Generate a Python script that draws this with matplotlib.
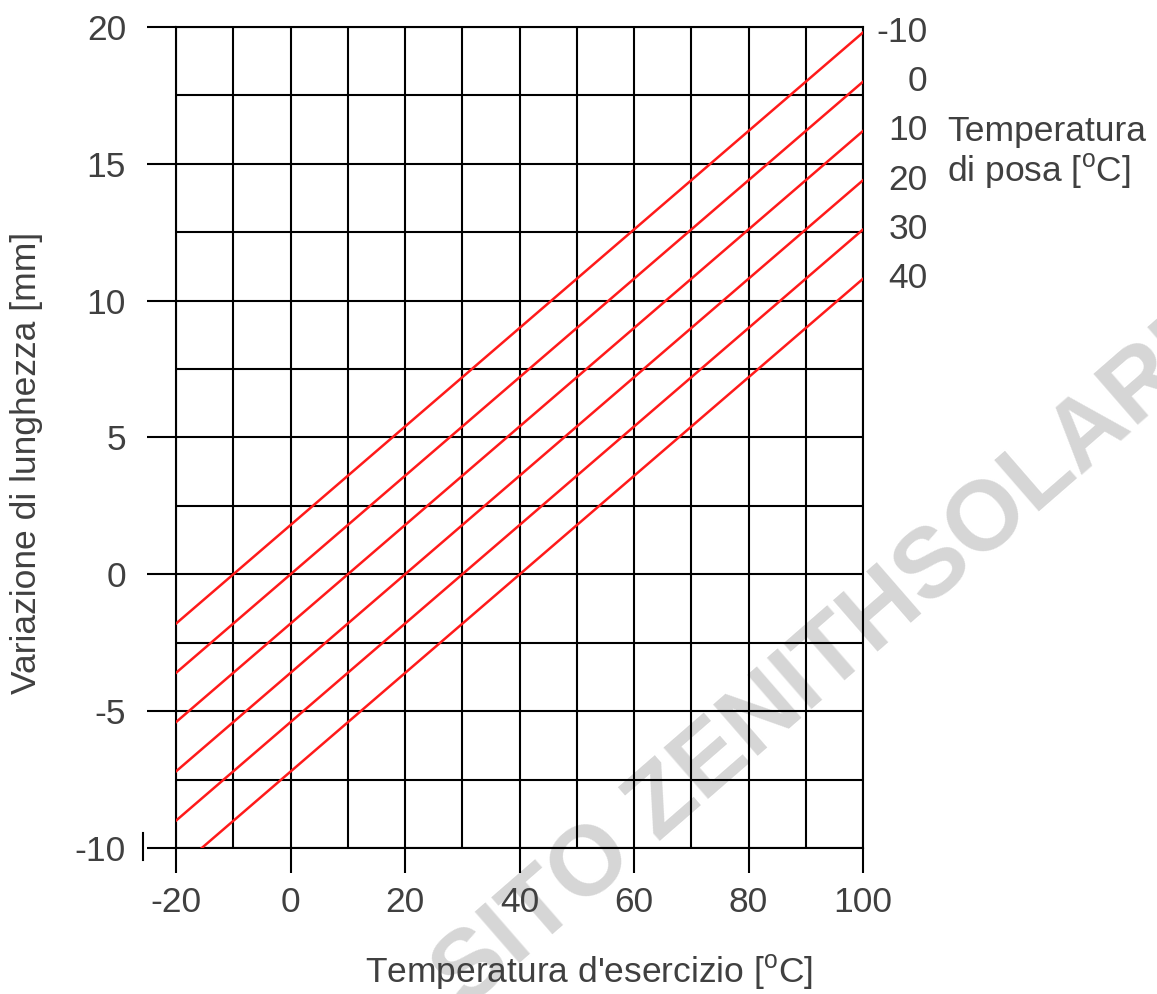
import matplotlib
matplotlib.use("Agg")
import matplotlib.pyplot as plt

plt.rcParams['font.family'] = ['Liberation Sans', 'DejaVu Sans']
plt.rcParams['axes.unicode_minus'] = False
plt.rcParams['mathtext.fontset'] = 'custom'
plt.rcParams['mathtext.rm'] = 'Liberation Sans'

# Dati: variazione di lunghezza per temperatura di posa
temp_posa = ['-10', '0', '10', '20', '30', '40']
x_inizio = [-20, -20, -20, -20, -20, -15.5]
y_inizio = [-1.8, -3.6, -5.4, -7.2, -9.0, -10.0]
x_fine = [100, 100, 100, 100, 100, 100]
y_fine = [19.8, 18.0, 16.2, 14.4, 12.6, 10.8]

x_ticks = [-20, 0, 20, 40, 60, 80, 100]
x_minor = [-10, 10, 30, 50, 70, 90]
y_ticks = [-10, -5, 0, 5, 10, 15, 20]
y_minor = [-7.5, -2.5, 2.5, 7.5, 12.5, 17.5]

txt_col = '#404040'
fs = 25.5

fig = plt.figure(figsize=(11.57, 9.94), dpi=100)
ax = fig.add_axes([0.15212, 0.14688, 0.59378, 0.82596])
ax.set_facecolor('none')
ax.set_zorder(2)

# Filigrana (dietro la griglia)
fig.text(0.7215, 0.340, 'SITO ZENITHSOLARE', fontsize=71, fontweight='bold',
         color='#d6d6d6', rotation=41, ha='center', va='center',
         rotation_mode='anchor', zorder=1)

for i in range(len(temp_posa)):
    ax.plot([x_inizio[i], x_fine[i]], [y_inizio[i], y_fine[i]],
            color='#ff1a1a', linewidth=1.8, zorder=3)
    ax.annotate(temp_posa[i], xy=(x_fine[i], y_fine[i]), xytext=(46.5, 0),
                textcoords='offset points', ha='right', va='center',
                fontsize=fs, color=txt_col, annotation_clip=False)

ax.set_xlim(-20, 100)
ax.set_ylim(-10, 20)
ax.set_xticks(x_ticks)
ax.set_xticks(x_minor, minor=True)
ax.set_yticks(y_ticks)
ax.set_yticks(y_minor, minor=True)
ax.tick_params(axis='x', which='major', length=18, width=1.5, color='black',
               pad=9, labelsize=fs, labelcolor=txt_col)
ax.tick_params(axis='y', which='major', length=21, width=1.5, color='black',
               pad=15, labelsize=fs, labelcolor=txt_col)
ax.tick_params(which='minor', length=0)
ax.grid(True, which='both', color='black', linewidth=1.5, zorder=1)
for s in ax.spines.values():
    s.set_color('black')
    s.set_linewidth(1.5)

# piccolo segno vicino a -10
ax.plot([-25.8, -25.8], [-9.45, -10.45], color='black', linewidth=1.5,
        clip_on=False)

fig.text(589 / 1157, 1 - 972 / 994, "Temperatura d'esercizio [$^{\\mathrm{o}}$C]",
         fontsize=fs, color=txt_col, ha='center', va='center', zorder=3)
fig.text(27 / 1157, 1 - 463 / 994, 'Variazione di lunghezza [mm]',
         fontsize=fs, color=txt_col, ha='center', va='center', rotation=90,
         zorder=3)
fig.text(947 / 1157, 1 - 153 / 994, 'Temperatura\ndi posa [$^{\\mathrm{o}}$C]',
         fontsize=fs, color=txt_col, ha='left', va='center', linespacing=1.1,
         zorder=3)

fig.savefig('out.png', dpi=100)
